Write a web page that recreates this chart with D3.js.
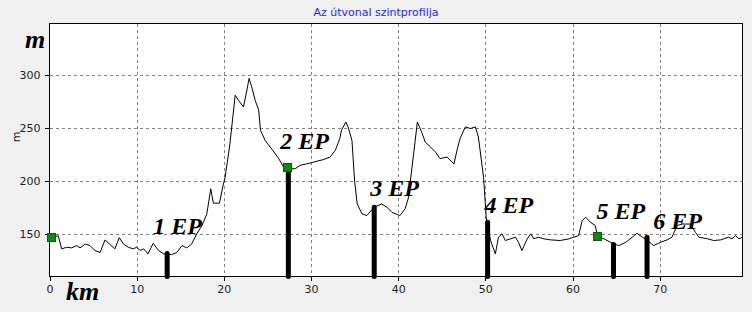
<!DOCTYPE html>
<html lang="hu">
<head>
  <meta charset="UTF-8">
  <title>Az útvonal szintprofilja</title>
  <script src="https://d3js.org/d3.v7.min.js"></script>
  <style>
    body { margin: 0; background: #f0f0f0; }
    svg { display: block; }
  </style>
</head>
<body>
  <script>
    // elevation profile (km, m)
    var profileKm = [0.3, 1.0, 1.4, 1.97, 2.55, 3.1, 3.5, 4.1, 4.65, 5.2, 5.8, 6.37, 6.9, 7.5, 8.0, 8.5, 9.05, 9.6, 10.0, 10.4,
      10.8, 11.3, 11.9, 12.5, 13.1, 13.5, 14.0, 14.6, 15.2, 15.75, 16.3, 16.9, 17.5, 18.05, 18.5, 18.8, 19.5, 19.95, 20.15, 20.7,
      21.3, 21.7, 22.25, 22.6, 22.9, 23.2, 23.6, 24.0, 24.2, 24.75, 25.5, 26.3, 26.85, 27.4, 28.2, 28.75, 29.5, 30.3, 30.9, 31.4,
      32.2, 32.8, 33.3, 33.5, 34.0, 34.3, 34.7, 35.0, 35.3, 35.85, 36.4, 37.25, 38.1, 38.7, 39.3, 40.2, 40.8, 41.2, 41.5, 41.95,
      42.2, 42.7, 43.1, 43.7, 44.3, 44.8, 45.6, 46.4, 46.75, 47.1, 47.7, 48.3, 48.85, 49.2, 49.8, 50.1, 50.3, 50.6, 51.15, 51.5,
      51.9, 52.3, 52.9, 53.45, 53.8, 54.2, 54.8, 55.2, 55.55, 56.1, 56.7, 57.5, 58.6, 59.6, 60.1, 60.7, 61.1, 61.5, 62.05, 62.6,
      62.9, 63.6, 64.7, 65.3, 66.1, 66.85, 67.4, 68.0, 68.55, 69.3, 70.1, 70.85, 71.4, 72.0, 72.6, 73.5, 74.1, 74.5, 75.5, 76.2,
      77.0, 77.9, 78.3, 78.7, 79.1, 79.5];
    var profileM = [146, 148, 135.5, 137, 136.4, 138.6, 136.4, 140, 138.6, 134, 132, 144, 140, 135.5, 146, 140, 137, 135.5, 137, 134,
      135.5, 130.7, 140.8, 134, 130.7, 130.5, 130, 132, 138.6, 136.4, 140, 149.7, 157.6, 168.7, 192.4, 178.8, 178.8, 197, 203.5, 235,
      281, 276, 270, 284, 297, 289, 276, 267, 248, 238, 230, 221, 213, 211, 211.5, 214.6, 216, 217.7, 219, 220,
      222.5, 229, 240, 248, 255.7, 250, 238, 200, 178, 168.7, 167, 175, 178, 175, 170, 167, 173.5, 184.5, 206.7, 238,
      255.7, 246, 236.7, 232, 227, 221, 222.5, 216, 229, 240, 251, 249.5, 251, 241.5, 203, 165, 155, 143.4, 130.7, 146.5,
      149.7, 143.4, 145, 146.5, 141.7, 133.9, 145, 149.7, 145, 146.5, 145, 144, 143.4, 145, 146.5, 148, 162, 165.5, 160.7, 157.6,
      147, 145, 140.2, 138.6, 141.7, 146.5, 150.3, 146.5, 144, 138.6, 141.7, 144, 146.5, 157.6, 159, 159, 151.2, 146.5, 145, 143.4,
      144, 146.5, 145, 148, 145, 146.5];

    // checkpoints (EP)
    var epNames = ["1 EP", "2 EP", "3 EP", "4 EP", "5 EP", "6 EP"];
    var epKm = [13.5, 27.4, 37.25, 50.26, 64.7, 68.55];
    var epM = [131, 212, 175, 160.7, 139.5, 146.5];
    var epLabelKm = [11.9, 26.46, 36.8, 49.9, 62.75, 69.25];
    var epLabelM = [149.7, 229.8, 186, 169.3, 164, 154.5];

    // green waypoint markers
    var markKm = [0.3, 27.4, 62.9];
    var markM = [146, 212, 147];

    var xTicks = [0, 10, 20, 30, 40, 50, 60, 70];
    var yTicks = [150, 200, 250, 300];

    var w = 752, h = 312;
    var plotL = 49.5, plotR = 742.5, plotT = 23.5, plotB = 276.5;

    var xScale = d3.scaleLinear().domain([0, 79.5]).range([plotL, plotR]);
    var yScale = d3.scaleLinear().domain([109.3, 349]).range([plotB, plotT]);

    var svg = d3.select("body").append("svg")
      .attr("width", w)
      .attr("height", h);

    svg.append("rect")
      .attr("x", plotL).attr("y", plotT)
      .attr("width", plotR - plotL).attr("height", plotB - plotT)
      .attr("fill", "#fff");

    // grid
    var grid = svg.append("g")
      .attr("stroke", "#808080")
      .attr("stroke-dasharray", "3,3")
      .attr("shape-rendering", "crispEdges");
    grid.selectAll("line.v")
      .data(xTicks.slice(1))
      .enter().append("line")
      .attr("x1", function(d) { return Math.round(xScale(d)) + 0.5; })
      .attr("x2", function(d) { return Math.round(xScale(d)) + 0.5; })
      .attr("y1", plotT).attr("y2", plotB);
    grid.selectAll("line.h")
      .data(yTicks)
      .enter().append("line")
      .attr("y1", function(d) { return Math.round(yScale(d)) + 0.5; })
      .attr("y2", function(d) { return Math.round(yScale(d)) + 0.5; })
      .attr("x1", plotL).attr("x2", plotR);

    // profile line
    var line = d3.line()
      .x(function(d, i) { return xScale(profileKm[i]); })
      .y(function(d) { return yScale(d); });
    svg.append("path")
      .attr("d", line(profileM))
      .attr("fill", "none")
      .attr("stroke", "#000")
      .attr("stroke-width", 1);

    // frame
    svg.append("rect")
      .attr("x", plotL).attr("y", plotT)
      .attr("width", plotR - plotL).attr("height", plotB - plotT)
      .attr("fill", "none")
      .attr("stroke", "#000")
      .attr("shape-rendering", "crispEdges");

    // axes
    var xAxis = d3.axisBottom(xScale).tickValues(xTicks).tickSize(4).tickSizeOuter(0);
    var yAxis = d3.axisLeft(yScale).tickValues(yTicks).tickSize(5).tickSizeOuter(0);

    var gx = svg.append("g")
      .attr("transform", "translate(0," + plotB + ")")
      .call(xAxis);
    var gy = svg.append("g")
      .attr("transform", "translate(" + plotL + ",0)")
      .call(yAxis);
    [gx, gy].forEach(function(g) {
      g.select(".domain").remove();
      g.selectAll("line").attr("shape-rendering", "crispEdges");
      g.selectAll("text")
        .attr("font-family", "'DejaVu Sans', sans-serif")
        .attr("font-size", 11)
        .attr("fill", "#222");
    });
    gx.selectAll("text").attr("dy", "0.9em");
    gy.selectAll("text").attr("dx", "-1px");

    // bars for checkpoints
    svg.selectAll("line.ep")
      .data(epKm)
      .enter().append("line")
      .attr("class", "ep")
      .attr("x1", function(d) { return xScale(d); })
      .attr("x2", function(d) { return xScale(d); })
      .attr("y1", function(d, i) { return yScale(epM[i]); })
      .attr("y2", plotB)
      .attr("stroke", "#000")
      .attr("stroke-width", 5)
      .attr("stroke-linecap", "round");

    // green markers
    svg.selectAll("rect.mark")
      .data(markKm)
      .enter().append("rect")
      .attr("class", "mark")
      .attr("x", function(d) { return Math.round(xScale(d)) - 4.5; })
      .attr("y", function(d, i) { return Math.round(yScale(markM[i])) - 4.5; })
      .attr("width", 8).attr("height", 8)
      .attr("fill", "#0b8a0b")
      .attr("stroke", "#1e4d1e");

    // checkpoint labels
    svg.selectAll("text.ep")
      .data(epNames)
      .enter().append("text")
      .attr("class", "ep")
      .attr("x", function(d, i) { return xScale(epLabelKm[i]); })
      .attr("y", function(d, i) { return yScale(epLabelM[i]); })
      .attr("font-family", "'Liberation Serif', serif")
      .attr("font-style", "italic")
      .attr("font-weight", "bold")
      .attr("font-size", 24)
      .attr("fill", "#000")
      .text(function(d) { return d; });

    // titles
    svg.append("text")
      .attr("x", 376).attr("y", 16)
      .attr("text-anchor", "middle")
      .attr("font-family", "'DejaVu Sans', sans-serif")
      .attr("font-size", 11)
      .attr("fill", "#2b2bc8")
      .text("Az útvonal szintprofilja");

    svg.append("text")
      .attr("transform", "translate(20,137) rotate(-90)")
      .attr("text-anchor", "middle")
      .attr("font-family", "'DejaVu Sans', sans-serif")
      .attr("font-size", 11)
      .attr("fill", "#222")
      .text("m");

    svg.append("text")
      .attr("x", 25).attr("y", 48)
      .attr("font-family", "'Liberation Serif', serif")
      .attr("font-style", "italic")
      .attr("font-weight", "bold")
      .attr("font-size", 26)
      .text("m");

    svg.append("text")
      .attr("x", 66).attr("y", 300)
      .attr("font-family", "'Liberation Serif', serif")
      .attr("font-style", "italic")
      .attr("font-weight", "bold")
      .attr("font-size", 26)
      .text("km");
  </script>
</body>
</html>
